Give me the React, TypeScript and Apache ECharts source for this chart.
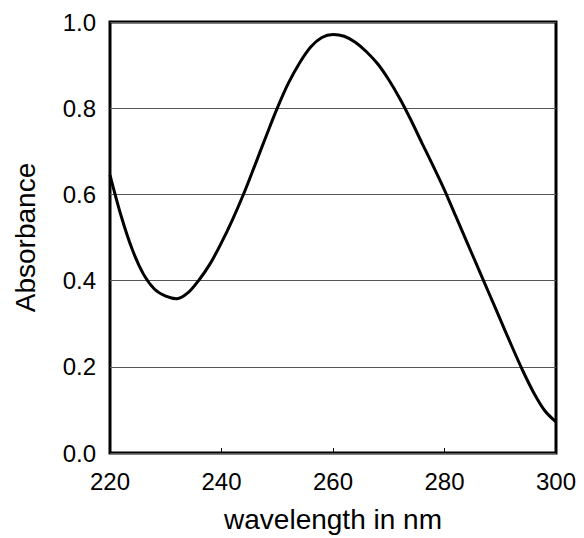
import React, { useEffect, useRef } from "react";
import * as echarts from "echarts";

const wavelengths = [220, 222, 224, 226, 228, 230, 232, 234, 236, 238, 240, 242, 244, 246, 248, 250, 252, 254, 256, 258, 260, 262, 264, 266, 268, 270, 272, 274, 276, 278, 280, 282, 284, 286, 288, 290, 292, 294, 296, 298, 300];
const absorbance = [0.645, 0.55, 0.472, 0.415, 0.38, 0.364, 0.358, 0.372, 0.402, 0.44, 0.488, 0.542, 0.602, 0.668, 0.735, 0.8, 0.858, 0.905, 0.942, 0.964, 0.971, 0.967, 0.953, 0.931, 0.903, 0.866, 0.822, 0.772, 0.718, 0.665, 0.61, 0.55, 0.49, 0.43, 0.37, 0.31, 0.25, 0.192, 0.14, 0.098, 0.072];

const xTicks = [220, 240, 260, 280, 300];
const yTicks = [0.0, 0.2, 0.4, 0.6, 0.8, 1.0];

export default function App() {
  const ref = useRef<HTMLDivElement>(null);
  useEffect(() => {
    if (!ref.current) return;
    const chart = echarts.init(ref.current, null, { renderer: "svg" });
    const font = "'Liberation Sans', Arial, sans-serif";
    chart.setOption({
      animation: false,
      backgroundColor: "#fff",
      grid: {
        left: 110,
        top: 22,
        right: 28,
        bottom: 83,
        show: true,
        borderColor: "#000",
        borderWidth: 3,
        backgroundColor: "transparent",
      },
      xAxis: {
        type: "value",
        min: xTicks[0],
        max: xTicks[xTicks.length - 1],
        interval: 20,
        name: "wavelength in nm",
        nameLocation: "middle",
        nameGap: 52,
        nameTextStyle: { fontFamily: font, fontSize: 28, color: "#000" },
        axisLine: { show: false },
        axisTick: { show: true, inside: true, length: 5, lineStyle: { color: "#000", width: 1 } },
        axisLabel: { fontFamily: font, fontSize: 24, color: "#000", margin: 16 },
        splitLine: { show: false },
      },
      yAxis: {
        type: "value",
        min: yTicks[0],
        max: yTicks[yTicks.length - 1],
        interval: 0.2,
        name: "Absorbance",
        nameLocation: "middle",
        nameGap: 71,
        nameTextStyle: { fontFamily: font, fontSize: 28, color: "#000" },
        axisLine: { show: false },
        axisTick: { show: false },
        axisLabel: {
          fontFamily: font,
          fontSize: 24,
          color: "#000",
          margin: 14,
          formatter: (v: number) => v.toFixed(1),
        },
        splitLine: { show: true, lineStyle: { color: "#555", width: 1 } },
      },
      series: [
        {
          type: "line",
          data: wavelengths.map((w, i) => [w, absorbance[i]]),
          smooth: 0.3,
          showSymbol: false,
          lineStyle: { color: "#000", width: 3 },
        },
      ],
    });
    return () => chart.dispose();
  }, []);
  return (
    <div
      ref={ref}
      style={{ position: "fixed", left: 0, top: 0, width: 584, height: 538 }}
    />
  );
}
